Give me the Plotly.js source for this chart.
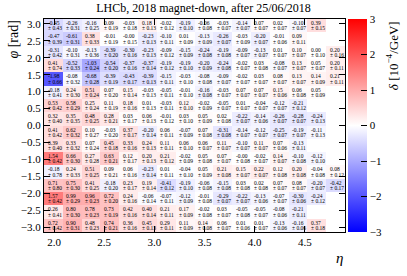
<!DOCTYPE html>
<html><head><meta charset="utf-8">
<script src="https://cdn.plot.ly/plotly-3.0.1.min.js"></script>
<style>body{margin:0;background:#fff}</style></head>
<body><div id="c" style="width:407px;height:276px"></div>
<script>
const etaMin = 1.9, etaBin = 0.1875;
const phiMin = -Math.PI, phiBin = Math.PI / 8;
const etaTicks = [2.0, 2.5, 3.0, 3.5, 4.0, 4.5];
const phiTicks = [-3.0, -2.5, -2.0, -1.5, -1.0, -0.5, 0.0, 0.5, 1.0, 1.5, 2.0, 2.5, 3.0];
// rows listed from top (highest phi) to bottom
const delta = [
 [-0.45,-0.26,-0.16,0.09,-0.03,0.18,-0.02,-0.19,-0.06,-0.03,-0.14,0.07,0.02,-0.10,0.39,null],
 [-0.47,-0.61,0.38,-0.01,-0.00,-0.23,-0.10,0.01,-0.13,-0.26,-0.03,-0.20,-0.01,0.09,null,null],
 [-0.31,-0.10,-0.13,-0.39,-0.30,-0.23,-0.09,-0.15,-0.24,-0.19,-0.09,-0.13,0.01,0.10,0.00,0.20],
 [0.41,-0.52,-1.03,-0.54,-0.37,-0.37,-0.19,-0.19,-0.20,-0.24,-0.02,0.03,-0.08,0.13,0.05,0.20],
 [-1.98,-0.08,-0.68,-0.39,-0.43,-0.39,-0.15,-0.03,-0.08,-0.09,-0.02,0.03,0.08,0.13,0.14,0.21],
 [-0.18,0.24,0.51,0.07,0.15,-0.03,-0.05,-0.01,-0.16,-0.03,0.07,0.07,0.15,0.06,0.05,null],
 [0.53,0.58,0.25,0.11,0.18,0.01,-0.03,0.12,-0.02,-0.05,0.01,-0.04,-0.12,-0.21,null,null],
 [0.32,0.35,0.48,0.28,0.03,0.06,-0.01,0.03,0.05,0.02,-0.22,-0.14,-0.26,-0.28,-0.24,null],
 [0.41,0.62,0.10,-0.03,0.37,-0.20,0.06,-0.07,0.07,-0.31,-0.14,-0.12,-0.25,-0.19,-0.11,null],
 [0.39,0.33,0.07,0.45,0.33,0.24,0.11,0.06,0.06,0.11,-0.10,0.11,0.07,-0.13,null,null],
 [1.54,0.66,0.27,0.63,0.12,0.20,0.21,-0.02,0.05,0.07,-0.00,-0.02,0.14,-0.10,-0.12,null],
 [-0.18,0.24,0.51,0.09,0.06,-0.23,0.01,-0.04,0.05,0.21,0.15,0.22,0.12,0.20,-0.04,0.08],
 [0.71,0.75,0.41,-0.18,0.23,0.19,-0.41,-0.19,-0.06,-0.15,0.03,0.02,0.07,0.08,-0.20,-0.42],
 [1.57,0.99,0.96,0.72,0.24,-0.06,-0.07,-0.12,-0.01,-0.29,-0.22,-0.13,-0.07,-0.30,-0.24,null],
 [0.26,0.80,0.78,0.73,0.42,0.40,0.21,0.17,-0.02,0.03,-0.05,-0.05,-0.08,-0.21,null,null],
 [0.72,0.90,0.48,0.74,0.36,0.45,0.29,0.11,0.14,0.06,0.01,0.01,-0.13,-0.16,0.37,null]
];
const errs = [
 [0.43,0.31,0.25,0.19,0.18,0.13,0.12,0.10,0.08,0.07,0.07,0.07,0.07,0.07,0.15,null],
 [0.39,0.31,0.33,0.19,0.15,0.13,0.11,0.09,0.09,0.07,0.09,0.07,0.06,0.11,null,null],
 [0.42,0.31,0.36,0.20,0.16,0.13,0.12,0.09,0.08,0.08,0.07,0.07,0.07,0.07,0.10,0.16],
 [0.74,0.33,0.24,0.20,0.16,0.14,0.12,0.10,0.09,0.08,0.07,0.08,0.07,0.07,0.07,0.11],
 [0.66,0.32,0.28,0.19,0.17,0.13,0.11,0.10,0.08,0.07,0.07,0.07,0.07,0.07,0.09,0.11],
 [0.41,0.30,0.24,0.20,0.14,0.13,0.11,0.10,0.08,0.07,0.07,0.07,0.06,0.08,0.09,null],
 [0.42,0.29,0.24,0.19,0.16,0.13,0.11,0.10,0.09,0.07,0.07,0.07,0.07,0.12,null,null],
 [0.40,0.35,0.25,0.21,0.17,0.13,0.12,0.10,0.09,0.08,0.07,0.06,0.07,0.07,0.13,null],
 [0.42,0.32,0.27,0.20,0.17,0.14,0.11,0.09,0.08,0.08,0.07,0.07,0.07,0.07,0.13,null],
 [0.40,0.32,0.24,0.18,0.16,0.13,0.11,0.10,0.07,0.07,0.07,0.07,0.06,0.11,null,null],
 [0.42,0.30,0.28,0.21,0.17,0.13,0.12,0.09,0.08,0.07,0.08,0.07,0.07,0.08,0.10,null],
 [0.78,0.33,0.25,0.21,0.16,0.14,0.11,0.10,0.09,0.08,0.07,0.07,0.08,0.08,0.08,0.12],
 [0.80,0.30,0.25,0.20,0.17,0.14,0.12,0.10,0.08,0.08,0.08,0.08,0.07,0.07,0.07,0.17],
 [0.42,0.29,0.23,0.20,0.16,0.14,0.11,0.09,0.08,0.07,0.07,0.06,0.07,0.06,0.12,null],
 [0.41,0.30,0.23,0.19,0.16,0.14,0.11,0.09,0.08,0.07,0.08,0.07,0.06,0.11,null,null],
 [0.42,0.31,0.23,0.21,0.16,0.13,0.11,0.09,0.08,0.07,0.06,0.07,0.06,0.06,0.18,null]
];

const nRow = delta.length, nCol = delta[0].length;
const z = delta.slice().reverse();
const font = 'Liberation Serif, Times New Roman, serif';
const fmt = v => (Object.is(v, -0) ? '-0.00' : v.toFixed(2));

const ann = [];
for (let r = 0; r < nRow; r++) {
  for (let c = 0; c < nCol; c++) {
    const v = delta[r][c];
    if (v === null) continue;
    const x = etaMin + c * etaBin;
    const y = phiMin + (nRow - 1 - r + 0.5) * phiBin;
    ann.push({x: x, y: y, xref: 'x', yref: 'y', text: fmt(v), showarrow: false,
      xanchor: 'left', yanchor: 'middle', xshift: 1.5, yshift: 2.6,
      font: {family: font, size: 5.5, color: '#000'}});
    ann.push({x: x, y: y, xref: 'x', yref: 'y', text: '± ' + errs[r][c].toFixed(2), showarrow: false,
      xanchor: 'left', yanchor: 'middle', xshift: 1.5, yshift: -2.6,
      font: {family: font, size: 5.5, color: '#000'}});
  }
}
ann.push({x: (12 - 43.5) / 301.5, xref: 'paper', xanchor: 'center', y: 1, yref: 'paper', yanchor: 'top',
  text: '<i>φ</i> [rad]', textangle: -90, showarrow: false,
  font: {family: font, size: 14, color: '#000'}});
ann.push({x: 1, xref: 'paper', xanchor: 'right', y: 0, yref: 'paper', yanchor: 'top', yshift: -16,
  text: '<i>η</i>', showarrow: false, font: {family: font, size: 15, color: '#000'}});
ann.push({x: 1.155, xref: 'paper', xanchor: 'center', y: 1, yref: 'paper', yanchor: 'top',
  text: '<i>δ</i> [10<sup>−4</sup>/GeV]', textangle: -90, showarrow: false,
  font: {family: font, size: 13, color: '#000'}});

const trace = {
  type: 'heatmap', z: z, x0: etaMin + etaBin / 2, dx: etaBin,
  y0: phiMin + phiBin / 2, dy: phiBin,
  zmin: -3, zmax: 3,
  colorscale: [[0, 'rgb(0,0,255)'], [0.5, 'rgb(255,255,255)'], [1, 'rgb(255,0,0)']],
  hoverongaps: false,
  colorbar: {x: 1.01, xanchor: 'left', y: 0.5, yanchor: 'middle', len: 1, lenmode: 'fraction',
    thickness: 19, thicknessmode: 'pixels', xpad: 0, ypad: 0, outlinewidth: 0,
    tickmode: 'array', tickvals: [-3, -2, -1, 0, 1, 2, 3], ticks: 'inside', ticklen: 6,
    tickcolor: '#000', tickfont: {family: font, size: 11, color: '#000'}}
};

const axisCommon = {showline: true, linecolor: '#000', linewidth: 1, mirror: 'ticks',
  ticks: 'inside', ticklen: 6, tickcolor: '#000', showgrid: false, zeroline: false,
  tickfont: {family: font, size: 11, color: '#000'}, tickformat: '.1f'};

const layout = {
  width: 407, height: 276,
  margin: {l: 43.5, r: 62, t: 19, b: 44, pad: 0},
  paper_bgcolor: '#fff', plot_bgcolor: '#fff',
  title: {text: 'LHCb, 2018 magnet-down, after 25/06/2018', x: 0.5, xref: 'container',
    y: 1, yref: 'container', yanchor: 'top', pad: {t: 4},
    font: {family: font, size: 12, color: '#000'}},
  xaxis: Object.assign({}, axisCommon, {range: [etaMin, etaMin + nCol * etaBin],
    tickmode: 'array', tickvals: etaTicks}),
  yaxis: Object.assign({}, axisCommon, {range: [phiMin, -phiMin],
    tickmode: 'array', tickvals: phiTicks}),
  annotations: ann,
  showlegend: false
};
Plotly.newPlot('c', [trace], layout, {displayModeBar: false, staticPlot: true});
</script></body></html>
